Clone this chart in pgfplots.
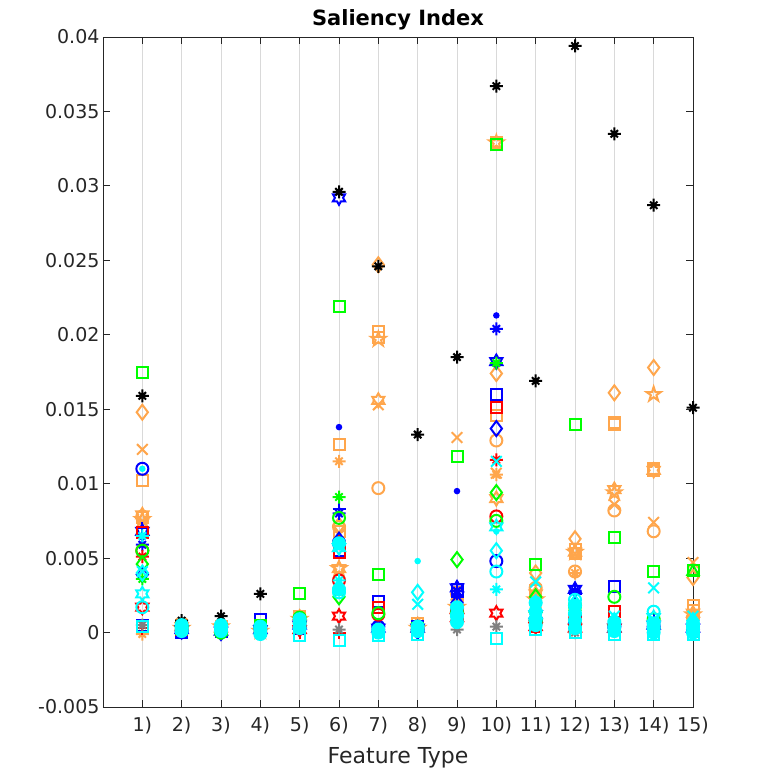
\documentclass[border=0pt]{standalone}
\usepackage{pgfplots}
\pgfplotsset{compat=1.18}
\usepackage{fontspec}
\setmainfont{DejaVu Sans}
\definecolor{morange}{rgb}{1,0.65,0.3}
\definecolor{mcyan}{rgb}{0,1,1}
\definecolor{mgreen}{rgb}{0,1,0}
\definecolor{mblue}{rgb}{0,0,1}
\definecolor{mred}{rgb}{1,0,0}
\definecolor{mgray}{rgb}{0.5,0.5,0.5}
\definecolor{axgray}{rgb}{0.15,0.15,0.15}
\pgfdeclareplotmark{hexagram}{%
 \pgfpathmoveto{\pgfpointpolar{90}{\pgfplotmarksize}}%
 \pgfpathlineto{\pgfpointpolar{120}{0.577\pgfplotmarksize}}%
 \pgfpathlineto{\pgfpointpolar{150}{\pgfplotmarksize}}%
 \pgfpathlineto{\pgfpointpolar{180}{0.577\pgfplotmarksize}}%
 \pgfpathlineto{\pgfpointpolar{210}{\pgfplotmarksize}}%
 \pgfpathlineto{\pgfpointpolar{240}{0.577\pgfplotmarksize}}%
 \pgfpathlineto{\pgfpointpolar{270}{\pgfplotmarksize}}%
 \pgfpathlineto{\pgfpointpolar{300}{0.577\pgfplotmarksize}}%
 \pgfpathlineto{\pgfpointpolar{330}{\pgfplotmarksize}}%
 \pgfpathlineto{\pgfpointpolar{0}{0.577\pgfplotmarksize}}%
 \pgfpathlineto{\pgfpointpolar{30}{\pgfplotmarksize}}%
 \pgfpathlineto{\pgfpointpolar{60}{0.577\pgfplotmarksize}}%
 \pgfpathclose\pgfusepathqstroke}
\pgfdeclareplotmark{pentagram}{%
 \pgfpathmoveto{\pgfpointpolar{90}{\pgfplotmarksize}}%
 \pgfpathlineto{\pgfpointpolar{126}{0.382\pgfplotmarksize}}%
 \pgfpathlineto{\pgfpointpolar{162}{\pgfplotmarksize}}%
 \pgfpathlineto{\pgfpointpolar{198}{0.382\pgfplotmarksize}}%
 \pgfpathlineto{\pgfpointpolar{234}{\pgfplotmarksize}}%
 \pgfpathlineto{\pgfpointpolar{270}{0.382\pgfplotmarksize}}%
 \pgfpathlineto{\pgfpointpolar{306}{\pgfplotmarksize}}%
 \pgfpathlineto{\pgfpointpolar{342}{0.382\pgfplotmarksize}}%
 \pgfpathlineto{\pgfpointpolar{18}{\pgfplotmarksize}}%
 \pgfpathlineto{\pgfpointpolar{54}{0.382\pgfplotmarksize}}%
 \pgfpathclose\pgfusepathqstroke}
\pgfdeclareplotmark{mstar}{%
 \pgfpathmoveto{\pgfpointpolar{0}{\pgfplotmarksize}}\pgfpathlineto{\pgfpointpolar{180}{\pgfplotmarksize}}%
 \pgfpathmoveto{\pgfpointpolar{90}{\pgfplotmarksize}}\pgfpathlineto{\pgfpointpolar{270}{\pgfplotmarksize}}%
 \pgfpathmoveto{\pgfpointpolar{45}{0.8\pgfplotmarksize}}\pgfpathlineto{\pgfpointpolar{225}{0.8\pgfplotmarksize}}%
 \pgfpathmoveto{\pgfpointpolar{135}{0.8\pgfplotmarksize}}\pgfpathlineto{\pgfpointpolar{315}{0.8\pgfplotmarksize}}%
 \pgfusepathqstroke}
\pgfplotsset{
 mk/.style={only marks, line width=2pt},
 msq/.style={mk, mark=square, mark size=5.5pt},
 mci/.style={mk, mark=o, mark size=6pt},
 mdi/.style={mk, mark=diamond, mark size=7.5pt},
 mas/.style={mk, mark=mstar, mark size=6.5pt},
 mx/.style={mk, mark=x, mark size=7.5pt},
 mpl/.style={mk, mark=+, mark size=6.5pt},
 mdot/.style={mk, mark=*, mark size=2.2pt},
 mhex/.style={mk, mark=hexagram, mark size=7pt},
 mpen/.style={mk, mark=pentagram, mark size=7.5pt},
 mtri/.style={mk, mark=triangle, mark size=6.5pt},
 mblob/.style={mk, mark=*, mark size=6pt},
}
\begin{document}
\begin{tikzpicture}
\begin{axis}[
 at={(0pt,0pt)}, anchor=south west,
 scale only axis, width=590pt, height=670pt,
 xmin=0, xmax=15, ymin=-0.005, ymax=0.04,
 clip=false,
 axis line style={axgray, line width=0.8pt},
 every tick/.style={axgray, line width=0.8pt},
 tick align=inside, major tick length=6.7pt,
 xtick pos=both, ytick pos=both,
 xtick={1,2,3,4,5,6,7,8,9,10,11,12,13,14,15},
 xticklabels={1),2),3),4),5),6),7),8),9),10),11),12),13),14),15)},
 ytick={-0.005,0,0.005,0.01,0.015,0.02,0.025,0.03,0.035,0.04},
 yticklabels={-0.005,0,0.005,0.01,0.015,0.02,0.025,0.03,0.035,0.04},
 scaled y ticks=false,
 tick label style={font=\fontsize{19}{22}\selectfont, text=axgray},
 xticklabel style={yshift=-7pt},
 xmajorgrids, grid style={draw={rgb,1:red,0.85;green,0.85;blue,0.85}, line width=0.8pt},
 title={Saliency Index},
 title style={font=\bfseries\fontsize{21}{25}\selectfont, text=black, yshift=-3pt},
 xlabel={Feature Type},
 xlabel style={font=\fontsize{22}{26}\selectfont, text=axgray, yshift=-6pt},
]
% ---------- orange ----------
\addplot[msq, morange] coordinates {(1,0.0102)(2,0.0005)(3,0.0004)(4,0.0003)(5,0.0011)(6,0.0126)(7,0.0202)(8,0.0006)(9,0.0027)(10,0.0329)(11,0.0028)(12,0.0056)(13,0.0141)(14,0.0109)(15,0.0018)};
\addplot[msq, morange] coordinates {(1,0.0077)(6,0.0068)(7,0.0198)(9,0.0025)(10,0.0146)(11,0.0024)(12,0.0053)(13,0.0140)(14,0.0110)(15,0.0015)};
\addplot[mdi, morange] coordinates {(1,0.0148)(2,0.0004)(3,0.0005)(4,0.0003)(5,0.0010)(6,0.0072)(7,0.0247)(8,0.0005)(9,0.0022)(10,0.0174)(11,0.0040)(12,0.0063)(13,0.0161)(14,0.0178)(15,0.0037)};
\addplot[mx, morange] coordinates {(1,0.0123)(2,0.0006)(3,0.0003)(4,0.0002)(5,0.0008)(6,0.0066)(7,0.0153)(8,0.0004)(9,0.0131)(10,0.0107)(11,0.0025)(12,0.0053)(13,0.0086)(14,0.0074)(15,0.0047)};
\addplot[mpen, morange] coordinates {(1,0.0076)(2,0.0003)(3,0.0004)(4,0.0001)(5,0.0009)(6,0.0043)(7,0.0197)(8,0.0003)(9,0.0017)(10,0.0329)(11,0.0022)(12,0.0054)(13,0.0094)(14,0.0160)(15,0.0012)};
\addplot[mci, morange] coordinates {(1,0.0078)(2,0.0002)(3,0.0003)(4,0.0001)(5,0.0007)(6,0.0071)(7,0.0097)(8,0.0002)(9,0.0026)(10,0.0129)(11,0.0030)(12,0.0041)(13,0.0082)(14,0.0068)(15,0.0010)};
\addplot[mas, morange] coordinates {(1,-0.0001)(2,0.0006)(3,0.0002)(4,0.0000)(5,0.0005)(6,0.0115)(7,0.0005)(8,0.0004)(9,0.0018)(10,0.0106)(11,0.0021)(12,0.0040)(13,0.0006)(14,0.0004)(15,0.0009)};
\addplot[mhex, morange] coordinates {(1,0.0079)(2,0.0004)(3,0.0003)(4,0.0002)(5,0.0006)(6,0.0043)(7,0.0156)(8,0.0003)(9,0.0016)(10,0.0090)(11,0.0026)(12,0.0054)(13,0.0096)(14,0.0109)(15,0.0013)};
% ---------- blue ----------
\addplot[mci, mblue] coordinates {(1,0.0110)(2,0.0001)(3,0.0001)(4,0.0004)(5,0.0004)(6,0.0060)(7,0.0004)(8,0.0002)(9,0.0014)(10,0.0048)(11,0.0008)(12,0.0007)(13,0.0004)(14,0.0004)(15,0.0002)};
\addplot[mhex, mblue] coordinates {(1,0.0068)(2,0.0002)(3,0.0001)(4,0.0002)(5,0.0005)(6,0.0292)(7,0.0003)(8,0.0003)(9,0.0030)(10,0.0182)(11,0.0012)(12,0.0029)(13,0.0003)(14,0.0005)(15,0.0003)};
\addplot[mdot, mblue] coordinates {(1,0.0064)(6,0.0138)(9,0.0095)(10,0.0213)(11,0.0006)(12,0.0005)};
\addplot[mas, mblue] coordinates {(1,0.0059)(2,0.0002)(3,0.0002)(4,0.0003)(5,0.0006)(6,0.0080)(7,0.0004)(8,0.0003)(9,0.0028)(10,0.0204)(11,0.0015)(12,0.0028)(13,0.0005)(14,0.0006)(15,0.0004)};
\addplot[mdi, mblue] coordinates {(1,0.0039)(2,0.0001)(3,0.0000)(4,0.0002)(5,0.0003)(6,0.0062)(7,0.0002)(8,0.0001)(9,0.0020)(10,0.0137)(11,0.0010)(12,0.0012)(13,0.0003)(14,0.0002)(15,0.0003)};
\addplot[msq, mblue] coordinates {(1,0.0005)(2,0.0000)(3,0.0001)(4,0.0009)(5,0.0003)(6,0.0055)(7,0.0021)(8,0.0004)(9,0.0029)(10,0.0160)(11,0.0005)(12,0.0008)(13,0.0031)(14,0.0002)(15,0.0001)};
\addplot[mpl, mblue] coordinates {(1,0.0070)(6,0.0083)(9,0.0024)(11,0.0013)(12,0.0026)(14,0.0008)};
% ---------- red ----------
\addplot[msq, mred] coordinates {(1,0.0067)(2,0.0002)(3,0.0002)(4,0.0003)(5,0.0004)(6,0.0054)(7,0.0017)(8,0.0002)(9,0.0012)(10,0.0151)(11,0.0004)(12,0.0006)(13,0.0014)(14,0.0003)(15,0.0002)};
\addplot[mas, mred] coordinates {(1,0.0051)(6,0.0061)(9,0.0013)(10,0.0116)(11,0.0009)(12,0.0010)(13,0.0004)};
\addplot[mhex, mred] coordinates {(1,0.0017)(5,0.0002)(6,0.0011)(9,0.0010)(10,0.0013)(11,0.0004)(12,0.0003)(13,0.0003)};
\addplot[mci, mred] coordinates {(1,0.0055)(6,0.0035)(7,0.0012)(9,0.0016)(10,0.0078)(11,0.0007)(12,0.0009)};
\addplot[mpl, mred] coordinates {(1,0.0003)(5,0.0000)(6,0.0000)(9,0.0008)(12,0.0002)};
% ---------- green ----------
\addplot[msq, mgreen] coordinates {(1,0.0175)(2,0.0003)(3,0.0002)(4,0.0005)(5,0.0026)(6,0.0219)(7,0.0039)(8,0.0003)(9,0.0118)(10,0.0328)(11,0.0046)(12,0.0140)(13,0.0064)(14,0.0041)(15,0.0042)};
\addplot[mdi, mgreen] coordinates {(1,0.0046)(2,0.0003)(3,0.0001)(5,0.0007)(6,0.0024)(9,0.0049)(10,0.0094)(11,0.0024)(12,0.0015)(13,0.0005)(14,0.0003)};
\addplot[mci, mgreen] coordinates {(1,0.0055)(2,0.0004)(3,0.0000)(5,0.0010)(6,0.0077)(7,0.0013)(9,0.0013)(10,0.0075)(11,0.0008)(12,0.0018)(13,0.0024)(14,0.0009)};
\addplot[mas, mgreen] coordinates {(1,0.0036)(6,0.0091)(10,0.0181)(12,0.0012)};
\addplot[mtri, mgreen] coordinates {(15,0.0041)(11,0.0016)};
% ---------- gray ----------
\addplot[mas, mgray] coordinates {(1,0.0005)(6,0.0002)(9,0.0002)(10,0.0004)(12,0.0000)};
% ---------- black ----------
\addplot[mas, black] coordinates {(1,0.0159)(2,0.0008)(3,0.0011)(4,0.0026)(5,0.0008)(6,0.0296)(7,0.0246)(8,0.0133)(9,0.0185)(10,0.0367)(11,0.0169)(12,0.0394)(13,0.0335)(14,0.0287)(15,0.0151)};
% ---------- cyan ----------
\addplot[mblob, mcyan] coordinates {(2,0.0001)(2,0.0003)(2,0.0005)(3,0.0001)(3,0.0003)(3,0.0005)(4,-0.0001)(4,0.0002)(4,0.0004)(5,0.0003)(5,0.0006)(5,0.0009)(6,0.0029)(6,0.0060)(7,0.0000)(7,0.0002)(8,0.0001)(8,0.0004)(9,0.0007)(9,0.0012)(9,0.0017)(11,0.0005)(11,0.0009)(11,0.0014)(11,0.0020)(12,0.0003)(12,0.0008)(12,0.0013)(12,0.0018)(13,0.0001)(13,0.0004)(13,0.0007)(14,0.0000)(14,0.0003)(14,0.0006)(15,0.0000)(15,0.0003)(15,0.0006)};
\addplot[mdi, mcyan] coordinates {(1,0.0040)(6,0.0030)(8,0.0027)(10,0.0055)(11,0.0020)(12,0.0020)(13,0.0008)(15,0.0008)};
\addplot[mx, mcyan] coordinates {(1,0.0041)(6,0.0058)(8,0.0019)(10,0.0115)(11,0.0034)(12,0.0016)(13,0.0011)(14,0.0030)(15,0.0011)};
\addplot[mci, mcyan] coordinates {(1,0.0017)(6,0.0027)(9,0.0011)(10,0.0041)(12,0.0022)(14,0.0014)(15,0.0004)};
\addplot[mas, mcyan] coordinates {(1,0.0065)(6,0.0035)(10,0.0029)(12,0.0009)};
\addplot[msq, mcyan] coordinates {(1,0.0004)(5,-0.0002)(6,-0.0005)(7,-0.0002)(8,-0.0001)(10,-0.0004)(11,0.0002)(12,0.0000)(13,-0.0001)(14,-0.0001)(15,-0.0001)};
\addplot[mhex, mcyan] coordinates {(1,0.0026)(6,0.0057)(10,0.0071)(11,0.0012)(14,0.0010)};
\addplot[mdot, mcyan] coordinates {(1,0.0110)(8,0.0048)(10,0.0068)};
\end{axis}
\pgfresetboundingbox
\path[use as bounding box] (-103pt,-70pt) rectangle (658pt,707pt);
\end{tikzpicture}
\end{document}
